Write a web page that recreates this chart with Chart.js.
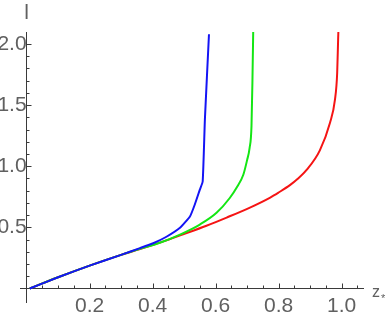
<!DOCTYPE html>
<html>
<head>
<meta charset="utf-8">
<script src="https://cdn.jsdelivr.net/npm/chart.js@4.4.1/dist/chart.umd.min.js"></script>
<style>
  html, body { margin: 0; padding: 0; background: #fff; }
</style>
</head>
<body>
<canvas id="chart" width="388" height="319"></canvas>
<script>
// values: z* on x, l on y
const blueZ  = [0.01, 0.1, 0.2, 0.3, 0.36, 0.402, 0.444, 0.487, 0.519, 0.534, 0.55, 0.559, 0.566, 0.579];
const blueL  = [0, 0.092, 0.187, 0.275, 0.33, 0.37, 0.423, 0.496, 0.591, 0.687, 0.809, 0.875, 1.381, 2.08];
const greenZ = [0.01, 0.1, 0.2, 0.3, 0.36, 0.423, 0.487, 0.55, 0.603, 0.645, 0.668, 0.688, 0.7, 0.708, 0.714, 0.717, 0.72];
const greenL = [0, 0.092, 0.187, 0.275, 0.325, 0.374, 0.441, 0.523, 0.619, 0.74, 0.83, 0.93, 1.05, 1.15, 1.33, 1.7, 2.2];
const redZ   = [0.01, 0.1, 0.2, 0.3, 0.36, 0.423, 0.497, 0.571, 0.635, 0.709, 0.772, 0.8, 0.836, 0.86, 0.889, 0.931, 0.963, 0.979, 0.986, 0.989, 0.991];
const redL   = [0, 0.092, 0.187, 0.275, 0.322, 0.375, 0.443, 0.513, 0.58, 0.662, 0.742, 0.785, 0.845, 0.895, 0.97, 1.13, 1.354, 1.545, 1.763, 2.035, 2.2];

const xTicks  = [0.05, 0.1, 0.15, 0.2, 0.25, 0.3, 0.35, 0.4, 0.45, 0.5, 0.55, 0.6, 0.65, 0.7, 0.75, 0.8, 0.85, 0.9, 0.95, 1.0, 1.05];
const xMajor  = [0.2, 0.4, 0.6, 0.8, 1.0];
const xLabels = ["0.2", "0.4", "0.6", "0.8", "1.0"];
const yTicks  = [0.1, 0.2, 0.3, 0.4, 0.5, 0.6, 0.7, 0.8, 0.9, 1.0, 1.1, 1.2, 1.3, 1.4, 1.5, 1.6, 1.7, 1.8, 1.9, 2.0];
const yMajor  = [0.5, 1.0, 1.5, 2.0];
const yLabels = ["0.5", "1.0", "1.5", "2.0"];

const labelFont = '"Liberation Sans Narrow", "Liberation Sans", sans-serif';
const labelColor = "#606060";
const axisColor = "#3a3a3a";

function toPoints(zs, ls) {
  return zs.map((z, i) => ({ x: z, y: ls[i] }));
}
function majorIndex(list, v) {
  return list.findIndex(m => Math.abs(m - v) < 1e-6);
}

// Mathematica style ticks pointing into the plot, plus axis names
const axisMarks = {
  id: "axisMarks",
  beforeDatasetsDraw(chart) {
    const ctx = chart.ctx;
    const xs = chart.scales.x;
    const ys = chart.scales.y;
    const x0 = xs.getPixelForValue(0);
    const y0 = ys.getPixelForValue(0);
    ctx.save();
    ctx.strokeStyle = axisColor;
    ctx.lineWidth = 1;
    ctx.beginPath();
    xs.ticks.forEach(t => {
      const px = Math.round(xs.getPixelForValue(t.value)) + 0.5;
      const len = majorIndex(xMajor, t.value) >= 0 ? 4.5 : 2.5;
      ctx.moveTo(px, Math.round(y0));
      ctx.lineTo(px, Math.round(y0) - len);
    });
    ys.ticks.forEach(t => {
      const py = Math.round(ys.getPixelForValue(t.value)) + 0.5;
      const len = majorIndex(yMajor, t.value) >= 0 ? 4.5 : 2.5;
      ctx.moveTo(Math.round(x0), py);
      ctx.lineTo(Math.round(x0) + len, py);
    });
    ctx.stroke();

    ctx.fillStyle = labelColor;
    ctx.textBaseline = "alphabetic";
    ctx.textAlign = "center";
    ctx.font = "21px " + labelFont;
    ctx.fillText("l", x0, chart.chartArea.top - 13);
    ctx.textAlign = "left";
    ctx.font = '16px "Liberation Sans", sans-serif';
    ctx.fillText("z", xs.right + 9, y0 + 9);
    ctx.font = '11px "Liberation Sans", sans-serif';
    ctx.fillText("*", xs.right + 18, y0 + 14);
    ctx.restore();
  }
};

new Chart(document.getElementById("chart"), {
  type: "scatter",
  data: {
    datasets: [
      { data: toPoints(blueZ, blueL), borderColor: "#1414f5", tension: 0.15 },
      { data: toPoints(greenZ, greenL), borderColor: "#14e614", cubicInterpolationMode: "monotone" },
      { data: toPoints(redZ, redL), borderColor: "#f51414", cubicInterpolationMode: "monotone" }
    ]
  },
  options: {
    responsive: false,
    devicePixelRatio: 1,
    animation: false,
    showLine: true,
    elements: {
      point: { radius: 0, hoverRadius: 0 },
      line: { borderWidth: 2, fill: false }
    },
    layout: { padding: { left: 20, right: 25, top: 32, bottom: 16 } },
    plugins: { legend: { display: false }, tooltip: { enabled: false } },
    scales: {
      x: {
        type: "linear",
        position: { y: 0 },
        min: -0.021,
        max: 1.068,
        afterBuildTicks: s => { s.ticks = xTicks.map(v => ({ value: v })); },
        grid: { display: true, drawOnChartArea: false, drawTicks: false },
        border: { display: true, color: axisColor, width: 1 },
        ticks: {
          autoSkip: false,
          maxRotation: 0,
          padding: 5,
          color: labelColor,
          font: { family: labelFont, size: 21 },
          callback: v => { const i = majorIndex(xMajor, v); return i >= 0 ? xLabels[i] : ""; }
        }
      },
      y: {
        type: "linear",
        position: { x: 0 },
        min: -0.114,
        max: 2.098,
        afterBuildTicks: s => { s.ticks = yTicks.map(v => ({ value: v })); },
        grid: { display: true, drawOnChartArea: false, drawTicks: false },
        border: { display: true, color: axisColor, width: 1 },
        ticks: {
          autoSkip: false,
          padding: 4,
          color: labelColor,
          font: { family: labelFont, size: 21 },
          callback: v => { const i = majorIndex(yMajor, v); return i >= 0 ? yLabels[i] : ""; }
        }
      }
    }
  },
  plugins: [axisMarks]
});
</script>
</body>
</html>
